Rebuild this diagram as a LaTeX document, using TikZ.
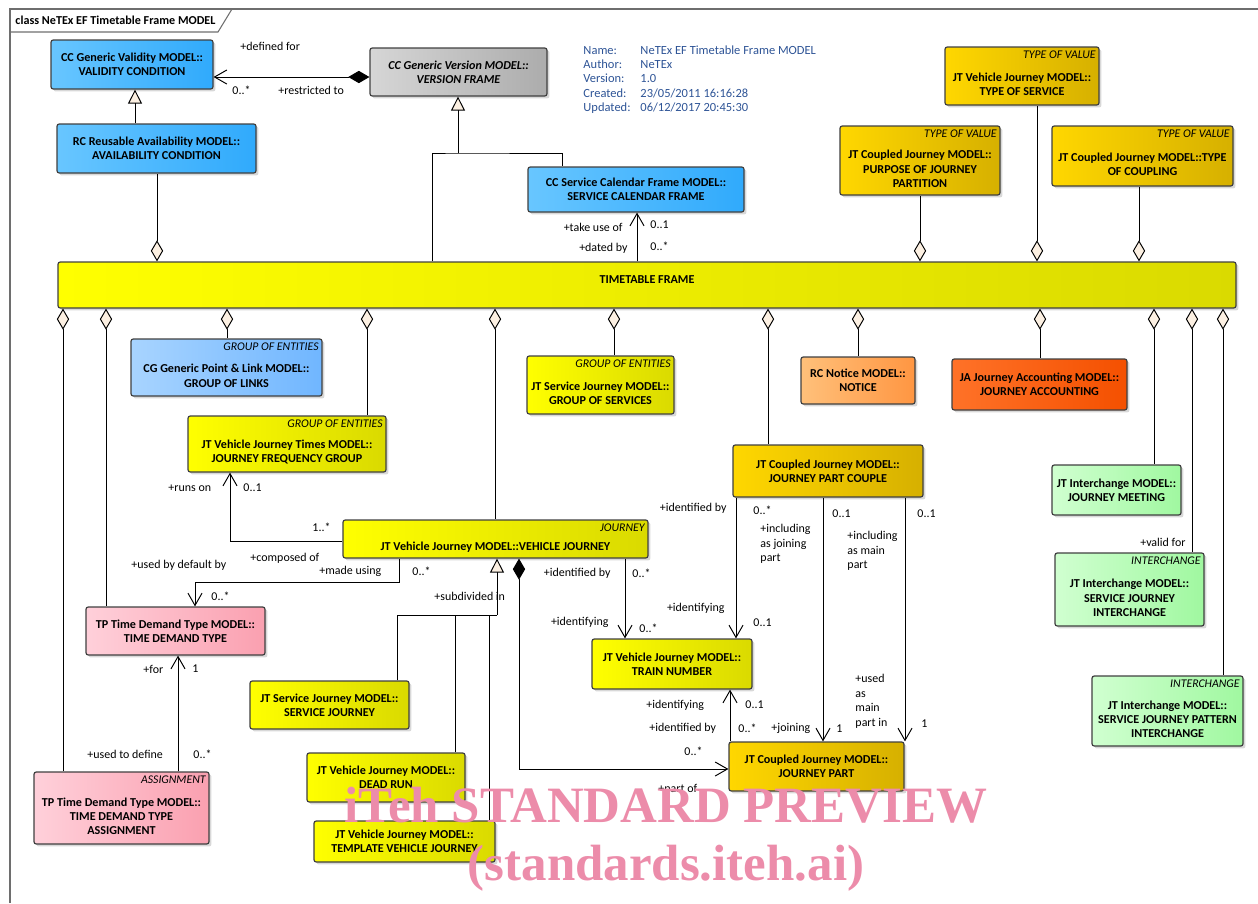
\documentclass[tikz,border=0pt]{standalone}
\usepackage{fontspec}
\setmainfont{Carlito}
\newfontfamily\wmfont{Liberation Serif}
\usetikzlibrary{arrows.meta, shadows}

\definecolor{boxline}{RGB}{64,64,64}
\definecolor{framegray}{RGB}{110,110,110}
\definecolor{tipcream}{RGB}{252,240,226}
\definecolor{metablue}{RGB}{46,84,150}
\definecolor{wmpink}{RGB}{236,140,170}
\definecolor{yelL}{RGB}{255,255,0}
\definecolor{yelR}{RGB}{218,218,0}
\definecolor{gldL}{RGB}{255,215,0}
\definecolor{gldR}{RGB}{214,176,0}
\definecolor{bluL}{RGB}{104,198,255}
\definecolor{bluR}{RGB}{48,170,252}
\definecolor{lbuL}{RGB}{168,212,255}
\definecolor{lbuR}{RGB}{112,182,255}
\definecolor{gryL}{RGB}{214,214,214}
\definecolor{gryR}{RGB}{172,172,172}
\definecolor{ornL}{RGB}{255,192,122}
\definecolor{ornR}{RGB}{255,150,66}
\definecolor{accL}{RGB}{255,114,40}
\definecolor{accR}{RGB}{244,80,0}
\definecolor{grnL}{RGB}{208,255,208}
\definecolor{grnR}{RGB}{160,248,160}
\definecolor{pnkL}{RGB}{255,208,218}
\definecolor{pnkR}{RGB}{250,160,176}

\newcommand\sttop{\phantom{X}\\[1.6pt]}

\begin{document}
\begin{tikzpicture}[
    x=0.02cm, y=-0.02cm, line width=.55pt,
    sz/.style 2 args={minimum width=#1*0.02cm, minimum height=#2*0.02cm},
    cls/.style={
        draw=boxline, line width=.7pt, rounded corners=1.3pt, align=center, inner sep=1pt,
        font=\bfseries\fontsize{6.9}{8.2}\selectfont,
        drop shadow={shadow xshift=1.4pt, shadow yshift=-1.4pt, fill=black!22, opacity=.7}
    },
    yel/.style={cls, left color=yelL, right color=yelR},
    gld/.style={cls, left color=gldL, right color=gldR},
    blu/.style={cls, left color=bluL, right color=bluR},
    lbu/.style={cls, left color=lbuL, right color=lbuR},
    gry/.style={cls, left color=gryL, right color=gryR, font=\bfseries\itshape\fontsize{6.9}{8.2}\selectfont},
    orn/.style={cls, left color=ornL, right color=ornR},
    acc/.style={cls, left color=accL, right color=accR},
    grn/.style={cls, left color=grnL, right color=grnR},
    pnk/.style={cls, left color=pnkL, right color=pnkR},
    st/.style={anchor=north east, inner xsep=2pt, inner ysep=2.2pt, font=\itshape\fontsize{6.7}{8}\selectfont},
    role/.style={inner sep=0pt, font=\fontsize{6.8}{8.2}\selectfont},
    meta/.style={inner sep=0pt, align=left, text=metablue, font=\fontsize{7.1}{8.2}\selectfont},
    wm/.style={inner sep=0pt, text=wmpink, font=\wmfont\bfseries\fontsize{29}{30}\selectfont},
    gen/.style={-{Triangle[length=8pt, width=8pt, fill=tipcream]}},
    agg/.style={{Diamond[length=12pt, width=7pt, fill=tipcream]}-},
    nav/.style={-{Straight Barb[length=7pt, width=8pt]}},
    compnav/.style={{Diamond[length=12pt, width=7pt]}-{Straight Barb[length=7pt, width=8pt]}},
]
    \useasboundingbox (0,0) rectangle (1258,903);

    % diagram frame
    \draw[framegray, line width=.6pt] (10,903) -- (10,9) -- (1258,9);
    \draw[framegray, line width=.6pt] (10,32) -- (218,32) -- (232,9);
    \node[anchor=west, inner sep=0pt, font=\bfseries\fontsize{6.9}{8}\selectfont] (ttl) at (15,20) {class NeTEx EF Timetable Frame MODEL};

    \node[meta, anchor=north west] (info) at (583,45) {%
        \makebox[1.14cm][l]{Name:}NeTEx EF Timetable Frame MODEL\\
        \makebox[1.14cm][l]{Author:}NeTEx\\
        \makebox[1.14cm][l]{Version:}1.0\\
        \makebox[1.14cm][l]{Created:}23/05/2011 16:16:28\\
        \makebox[1.14cm][l]{Updated:}06/12/2017 20:45:30};

    % classes
    \node[blu, sz={162}{49}] (vc) at (132,64.5) {CC Generic Validity MODEL::\\VALIDITY CONDITION};
    \node[blu, sz={199}{49}] (ac) at (156.5,148.5) {RC Reusable Availability MODEL::\\AVAILABILITY CONDITION};
    \node[gry, sz={177}{48}] (vf) at (458.5,72) {CC Generic Version MODEL::\\VERSION FRAME};
    \node[blu, sz={216}{45}] (scf) at (636,189.5) {CC Service Calendar Frame MODEL::\\SERVICE CALENDAR FRAME};
    \node[yel, sz={1178}{46}, text depth=6.5pt] (tt) at (647,285) {TIMETABLE FRAME};

    \node[gld, sz={154}{58}, label={[st]north east:TYPE OF VALUE}] (tos) at (1022,76) {\sttop JT Vehicle Journey MODEL::\\TYPE OF SERVICE};
    \node[gld, sz={160}{69}, label={[st]north east:TYPE OF VALUE}] (pjp) at (920,160.5) {\sttop JT Coupled Journey MODEL::\\PURPOSE OF JOURNEY\\PARTITION};
    \node[gld, sz={181}{60}, label={[st]north east:TYPE OF VALUE}] (toc) at (1142.5,156) {\sttop JT Coupled Journey MODEL::TYPE\\OF COUPLING};

    \node[lbu, sz={191}{57}, label={[st]north east:GROUP OF ENTITIES}] (gol) at (226.5,367.5) {\sttop CG Generic Point \& Link MODEL::\\GROUP OF LINKS};
    \node[yel, sz={198}{56}, label={[st]north east:GROUP OF ENTITIES}] (jfg) at (287,444) {\sttop JT Vehicle Journey Times MODEL::\\JOURNEY FREQUENCY GROUP};
    \node[yel, sz={147}{58}, label={[st]north east:GROUP OF ENTITIES}] (gos) at (600.5,385) {\sttop JT Service Journey MODEL::\\GROUP OF SERVICES};
    \node[orn, sz={114}{47}] (ntc) at (858,380.5) {RC Notice MODEL::\\NOTICE};
    \node[acc, sz={175}{51}] (jac) at (1039.5,384.5) {JA Journey Accounting MODEL::\\JOURNEY ACCOUNTING};
    \node[gld, sz={190}{52}] (jpc) at (828,471) {JT Coupled Journey MODEL::\\JOURNEY PART COUPLE};
    \node[grn, sz={129}{50}] (jm) at (1116.5,490) {JT Interchange MODEL::\\JOURNEY MEETING};
    \node[grn, sz={149}{73}, label={[st]north east:INTERCHANGE}] (sji) at (1129.5,589.5) {\sttop JT Interchange MODEL::\\SERVICE JOURNEY\\INTERCHANGE};
    \node[grn, sz={151}{70}, label={[st]north east:INTERCHANGE}] (sjpi) at (1167.5,711) {\sttop JT Interchange MODEL::\\SERVICE JOURNEY PATTERN\\INTERCHANGE};

    \node[yel, sz={305}{38}, label={[st]north east:JOURNEY}] (vj) at (495.5,539) {\sttop JT Vehicle Journey MODEL::VEHICLE JOURNEY};
    \node[pnk, sz={179}{48}] (tdt) at (175.5,631) {TP Time Demand Type MODEL::\\TIME DEMAND TYPE};
    \node[pnk, sz={175}{72}, label={[st]north east:ASSIGNMENT}] (tdta) at (121.5,808) {\sttop TP Time Demand Type MODEL::\\TIME DEMAND TYPE\\ASSIGNMENT};
    \node[yel, sz={159}{48}] (sj) at (329.5,705) {JT Service Journey MODEL::\\SERVICE JOURNEY};
    \node[yel, sz={158}{49}] (dr) at (386,777.5) {JT Vehicle Journey MODEL::\\DEAD RUN};
    \node[yel, sz={181}{41}] (tvj) at (404.5,841.5) {JT Vehicle Journey MODEL::\\TEMPLATE VEHICLE JOURNEY};
    \node[yel, sz={160}{50}] (tn) at (672,664) {JT Vehicle Journey MODEL::\\TRAIN NUMBER};
    \node[gld, sz={175}{49}] (jp) at (816.5,766.5) {JT Coupled Journey MODEL::\\JOURNEY PART};

    % generalisations
    \draw[gen] (ac.north -| 135,0) -- (vc.south -| 135,0);
    \coordinate (fj) at (458,153);
    \draw (tt.north -| 432,0) |- (fj) -| (scf.north -| 562,0);
    \draw[gen] (fj) -- (vf.south -| fj);
    \coordinate (vjj) at (497,615);
    \draw[gen] (vjj) -- (vj.south -| vjj);
    \draw (sj.north -| 397,0) |- (vjj);
    \draw (dr.north -| 455,0) -- (vjj -| 455,0);
    \draw (tvj.north -| 489,0) -- (vjj -| 489,0);

    % aggregations onto the frame
    \draw[agg] (tt.north -| 157,0) -- (ac.south -| 157,0);
    \draw[agg] (tt.north -| 920,0) -- (pjp.south -| 920,0);
    \draw[agg] (tt.north -| 1037,0) -- (tos.south -| 1037,0);
    \draw[agg] (tt.north -| 1139,0) -- (toc.south -| 1139,0);
    \draw[agg] (tt.south -| 63,0) -- (tdta.north -| 63,0);
    \draw[agg] (tt.south -| 106,0) -- (tdt.north -| 106,0);
    \draw[agg] (tt.south -| 227,0) -- (gol.north -| 227,0);
    \draw[agg] (tt.south -| 367,0) -- (jfg.north -| 367,0);
    \draw[agg] (tt.south -| 495,0) -- (vj.north -| 495,0);
    \draw[agg] (tt.south -| 614,0) -- (gos.north -| 614,0);
    \draw[agg] (tt.south -| 768,0) -- (jpc.north -| 768,0);
    \draw[agg] (tt.south -| 858,0) -- (ntc.north -| 858,0);
    \draw[agg] (tt.south -| 1040,0) -- (jac.north -| 1040,0);
    \draw[agg] (tt.south -| 1154,0) -- (jm.north -| 1154,0);
    \draw[agg] (tt.south -| 1192,0) -- (sji.north -| 1192,0);
    \draw[agg] (tt.south -| 1223,0) -- (sjpi.north -| 1223,0);

    % associations
    \draw[compnav] (vf.west |- 0,77) -- (vc.east |- 0,77);
    \draw[nav] (tt.north -| 637,0) -- (scf.south -| 637,0);
    \draw[nav] (vj.west |- 0,541) -| (jfg.south -| 230,0);
    \draw[nav] (vj.south -| 399,0) -- (399,582) -| (tdt.north -| 195,0);
    \draw[nav] (tdta.north -| 178,0) -- (tdt.south -| 178,0);
    \draw[nav] (vj.south -| 625,0) -- (tn.north -| 625,0);
    \draw[nav] (jpc.south -| 736,0) -- (tn.north -| 736,0);
    \draw[nav] (jpc.south -| 823,0) -- (jp.north -| 823,0);
    \draw[nav] (jpc.south -| 905,0) -- (jp.north -| 905,0);
    \draw[nav] (jp.north -| 730,0) -- (tn.south -| 730,0);
    \draw[compnav] (vj.south -| 519,0) |- (jp.west |- 0,769);

    % role names and multiplicities
    \node[role, anchor=west] (r1) at (240,46) {+defined for};
    \node[role, anchor=west] (r2) at (278,90) {+restricted to};
    \node[role, anchor=west] (r3) at (232,90) {0..*};
    \node[role, anchor=east] (r4) at (623,227) {+take use of};
    \node[role, anchor=west] (r5) at (650,225) {0..1};
    \node[role, anchor=east] (r6) at (628,248) {+dated by};
    \node[role, anchor=west] (r7) at (650,246) {0..*};
    \node[role, anchor=west] (r8) at (168,488) {+runs on};
    \node[role, anchor=west] (r9) at (243,488) {0..1};
    \node[role, anchor=west] (r10) at (312,527) {1..*};
    \node[role, anchor=west] (r11) at (250,558) {+composed of};
    \node[role, anchor=west] (r12) at (319,571) {+made using};
    \node[role, anchor=west] (r13) at (412,571) {0..*};
    \node[role, anchor=west] (r14) at (131,565) {+used by default by};
    \node[role, anchor=west] (r15) at (211,596) {0..*};
    \node[role, anchor=west] (r16) at (143,669) {+for};
    \node[role, anchor=west] (r17) at (192,669) {1};
    \node[role, anchor=west] (r18) at (87,754) {+used to define};
    \node[role, anchor=west] (r19) at (193,754) {0..*};
    \node[role, anchor=west] (r20) at (434,596) {+subdivided in};
    \node[role, anchor=west] (r21) at (684,751) {0..*};
    \node[role, anchor=west] (r22) at (658,789) {+part of};
    \node[role, anchor=east] (r23) at (611,573) {+identified by};
    \node[role, anchor=west] (r24) at (632,573) {0..*};
    \node[role, anchor=east] (r25) at (609,622) {+identifying};
    \node[role, anchor=west] (r26) at (639,628) {0..*};
    \node[role, anchor=east] (r27) at (727,508) {+identified by};
    \node[role, anchor=west] (r28) at (753,510) {0..*};
    \node[role, anchor=north west, align=left] (r29) at (760,524) {+including\\as joining\\part};
    \node[role, anchor=east] (r30) at (725,608) {+identifying};
    \node[role, anchor=west] (r31) at (753,623) {0..1};
    \node[role, anchor=west] (r32) at (832,514) {0..1};
    \node[role, anchor=north west, align=left] (r33) at (847,531) {+including\\as main\\part};
    \node[role, anchor=west] (r34) at (917,514) {0..1};
    \node[role, anchor=north west, align=left] (r35) at (855,674) {+used\\as\\main\\part in};
    \node[role, anchor=west] (r36) at (836,729) {1};
    \node[role, anchor=west] (r37) at (921,724) {1};
    \node[role, anchor=west] (r38) at (771,728) {+joining};
    \node[role, anchor=west] (r39) at (646,705) {+identifying};
    \node[role, anchor=west] (r40) at (745,705) {0..1};
    \node[role, anchor=west] (r41) at (649,728) {+identified by};
    \node[role, anchor=west] (r42) at (738,728) {0..*};
    \node[role, anchor=east] (r43) at (1186,542) {+valid for};

    % watermark
    \node[wm, anchor=base] (wm1) at (666,822) {iTeh STANDARD PREVIEW};
    \node[wm, anchor=base] (wm2) at (666,880) {(standards.iteh.ai)};

\end{tikzpicture}
\end{document}
